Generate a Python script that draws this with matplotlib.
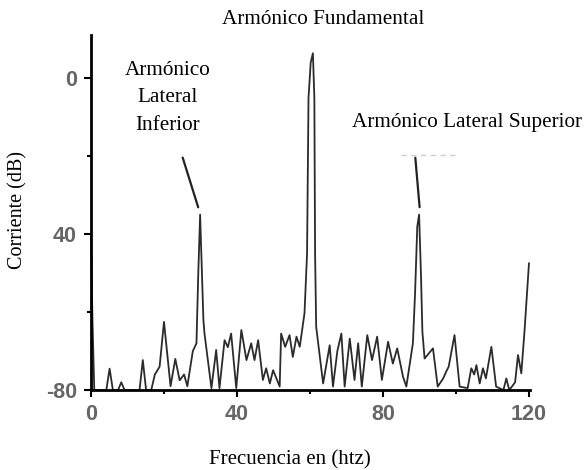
import numpy as np
import matplotlib
matplotlib.use("Agg")
import matplotlib.pyplot as plt
from matplotlib.ticker import FixedLocator

# spectrum (frequency in Hz, level in dB)
freq = [0, 0.4, 0.9, 4.2, 5.1, 6.0, 7.4, 8.3, 9.2, 13.3, 14.2, 15.1, 16.5, 17.5, 18.8,
        20.0, 21.8, 23.1, 24.3, 25.5, 26.4, 27.9, 28.9, 29.4, 29.9, 30.4, 30.8, 31.1,
        33.0, 34.3, 35.2, 36.6, 37.5, 38.4, 39.8, 41.2, 42.6, 43.9, 44.8, 45.8, 47.1,
        48.0, 49.0, 49.9, 51.7, 52.1, 53.2, 54.4, 55.3, 56.3, 57.2, 58.5, 59.2, 59.6,
        60.2, 60.8, 61.2, 61.4, 61.7, 63.6, 65.4, 66.3, 67.5, 68.6, 69.5, 70.9, 72.2,
        73.2, 74.2, 75.7, 77.0, 78.4, 79.7, 81.4, 82.7, 83.9, 85.5, 86.4, 88.2, 88.8,
        89.4, 89.9, 90.4, 90.8, 91.4, 93.7, 95.0, 96.5, 97.3, 98.0, 99.6, 101.0, 103.2,
        104.2, 105.0, 105.6, 106.5, 107.4, 108.2, 109.7, 111.0, 113.0, 113.8, 114.6,
        116.2, 117.0, 117.9, 118.8, 120.0]
level = [-40, -62, -80, -80, -74.5, -80, -80, -78, -80, -80, -72.3, -80, -80, -76, -74,
         -62.5, -79, -72, -77.5, -76, -79, -70, -68, -50, -35, -50, -62, -65.5,
         -79.5, -69.7, -79.5, -67.2, -69, -65.5, -79.5, -64.6, -72.3, -68, -72.3, -67.2, -77.4,
         -74.4, -78.3, -74.9, -79.1, -65.5, -68.9, -65.9, -71.5, -66.3, -68.9, -60.3, -45, -5,
         4, 6.4, -5, -45, -63.8, -78.3, -68.5, -79.1, -70, -65.5, -79.1, -66.8, -77.4,
         -68, -79.1, -65.9, -72.3, -66.3, -77.4, -67.6, -73.2, -69.3, -76.6, -79.1, -68, -55,
         -38, -35, -50, -65, -71.9, -69.3, -79.1, -77, -75.3, -74, -65.9, -79.1, -79.5,
         -74.4, -76, -73.6, -78.3, -74.4, -77, -68.9, -79.1, -80, -77, -80,
         -78, -71, -75.7, -64.6, -47.5]

xticks = [0, 40, 80, 120]
xminor = [20, 60, 100]
yticks = [0, -40, -80]
ytick_labels = ["0", "40", "-80"]
yminor = [-20, -60]

serif = ["Liberation Serif", "DejaVu Serif"]

fig = plt.figure(figsize=(5.87, 4.70), dpi=100)
ax = fig.add_axes([0.155, 0.170, 0.748, 0.755])

ax.plot(freq, level, color="#2b2b2b", lw=1.3, clip_on=False)

ax.set_xlim(0, 120.3)
ax.set_ylim(-80, 11)
for s in ["top", "right"]:
    ax.spines[s].set_visible(False)
for s in ["left", "bottom"]:
    ax.spines[s].set_linewidth(2)

ax.set_xticks(xticks)
ax.set_xticklabels([str(t) for t in xticks])
ax.set_yticks(yticks)
ax.set_yticklabels(ytick_labels)
ax.xaxis.set_minor_locator(FixedLocator(xminor))
ax.yaxis.set_minor_locator(FixedLocator(yminor))
ax.tick_params(which="major", length=5, width=1.5, pad=5, labelsize=15.5, labelcolor="#666666")
ax.tick_params(which="minor", length=3, width=1.5)
for lab in ax.get_xticklabels() + ax.get_yticklabels():
    lab.set_fontweight("bold")
    lab.set_family(["Liberation Sans", "DejaVu Sans"])

# leader lines to the side harmonics
ax.annotate("", xy=(29.6, -33.8), xytext=(24.9, -19.7),
            arrowprops=dict(arrowstyle="-", color="#222222", lw=1.6))
ax.annotate("", xy=(90.1, -33.8), xytext=(88.8, -19.7),
            arrowprops=dict(arrowstyle="-", color="#222222", lw=1.6))
ax.plot([85, 100], [-19.7, -19.7], color="#d0d0d0", lw=1, ls=(0, (4, 3)))

fig.text(323.5 / 587, 1 - 20 / 470, "Armónico Fundamental", family=serif, fontsize=15.3,
         ha="center", va="center")
fig.text(168 / 587, 1 - 98 / 470, "Armónico\nLateral\nInferior", family=serif, fontsize=15.3,
         ha="center", va="center", linespacing=1.6)
fig.text(467.5 / 587, 1 - 122 / 470, "Armónico Lateral Superior", family=serif, fontsize=15.3,
         ha="center", va="center")
fig.text(18 / 587, 1 - 210 / 470, "Corriente (dB)", family=serif, fontsize=14.5,
         ha="center", va="center", rotation=90)
fig.text(290 / 587, 1 - 460 / 470, "Frecuencia en (htz)", family=serif, fontsize=15,
         ha="center", va="center")

fig.savefig("out.png", dpi=100)
